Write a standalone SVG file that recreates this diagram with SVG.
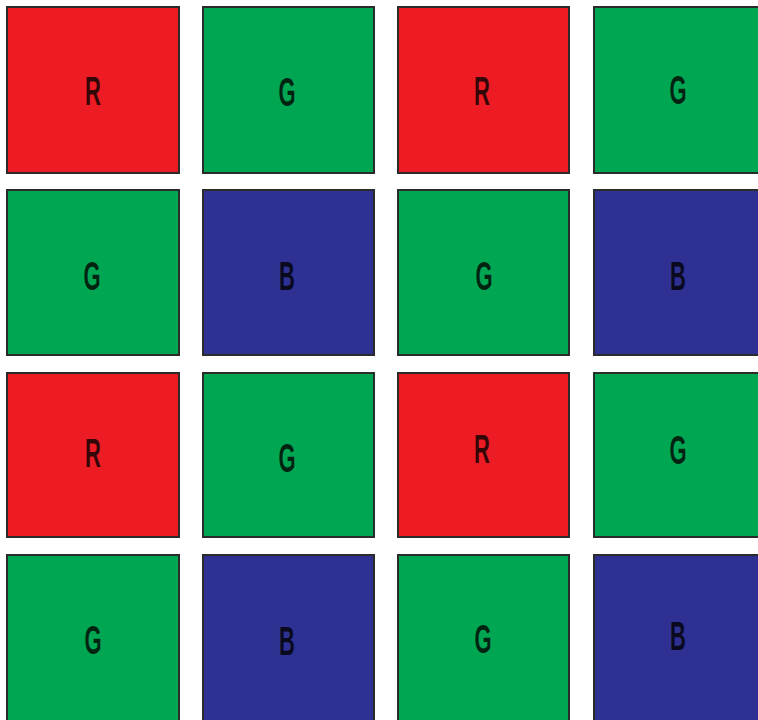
<svg xmlns="http://www.w3.org/2000/svg" width="758" height="720" viewBox="0 0 758 720">
<style>
.c{stroke:#2b2b2b;stroke-width:2}
.r{fill:#ed1c24}
.g{fill:#00a651}
.b{fill:#2e3192}
.t{font-family:"Liberation Sans",Arial,sans-serif;font-weight:bold;font-size:40px;text-anchor:middle;fill:#000;fill-opacity:0.78}
</style>
<rect width="758" height="720" fill="#fff"/>
<g id="r1c1"><rect class="c r" x="7" y="7" width="172" height="166"/><text class="t" transform="translate(93,105) scale(0.55,1)">R</text></g>
<g id="r1c2"><rect class="c g" x="203" y="7" width="171" height="166"/><text class="t" transform="translate(287,106) scale(0.55,1)">G</text></g>
<g id="r1c3"><rect class="c r" x="398" y="7" width="171" height="166"/><text class="t" transform="translate(482,105) scale(0.55,1)">R</text></g>
<g id="r1c4"><rect class="c g" x="594" y="7" width="170" height="166"/><text class="t" transform="translate(678,104) scale(0.55,1)">G</text></g>
<g id="r2c1"><rect class="c g" x="7" y="190" width="172" height="165"/><text class="t" transform="translate(92,290) scale(0.55,1)">G</text></g>
<g id="r2c2"><rect class="c b" x="203" y="190" width="171" height="165"/><text class="t" transform="translate(287,290) scale(0.55,1)">B</text></g>
<g id="r2c3"><rect class="c g" x="398" y="190" width="171" height="165"/><text class="t" transform="translate(484,290) scale(0.55,1)">G</text></g>
<g id="r2c4"><rect class="c b" x="594" y="190" width="170" height="165"/><text class="t" transform="translate(678,290) scale(0.55,1)">B</text></g>
<g id="r3c1"><rect class="c r" x="7" y="373" width="172" height="164"/><text class="t" transform="translate(93,467) scale(0.55,1)">R</text></g>
<g id="r3c2"><rect class="c g" x="203" y="373" width="171" height="164"/><text class="t" transform="translate(287,472) scale(0.55,1)">G</text></g>
<g id="r3c3"><rect class="c r" x="398" y="373" width="171" height="164"/><text class="t" transform="translate(482,463) scale(0.55,1)">R</text></g>
<g id="r3c4"><rect class="c g" x="594" y="373" width="170" height="164"/><text class="t" transform="translate(678,464) scale(0.55,1)">G</text></g>
<g id="r4c1"><rect class="c g" x="7" y="555" width="172" height="170"/><text class="t" transform="translate(93,654) scale(0.55,1)">G</text></g>
<g id="r4c2"><rect class="c b" x="203" y="555" width="171" height="170"/><text class="t" transform="translate(287,655) scale(0.55,1)">B</text></g>
<g id="r4c3"><rect class="c g" x="398" y="555" width="171" height="170"/><text class="t" transform="translate(483,653) scale(0.55,1)">G</text></g>
<g id="r4c4"><rect class="c b" x="594" y="555" width="170" height="170"/><text class="t" transform="translate(678,650) scale(0.55,1)">B</text></g>
</svg>
